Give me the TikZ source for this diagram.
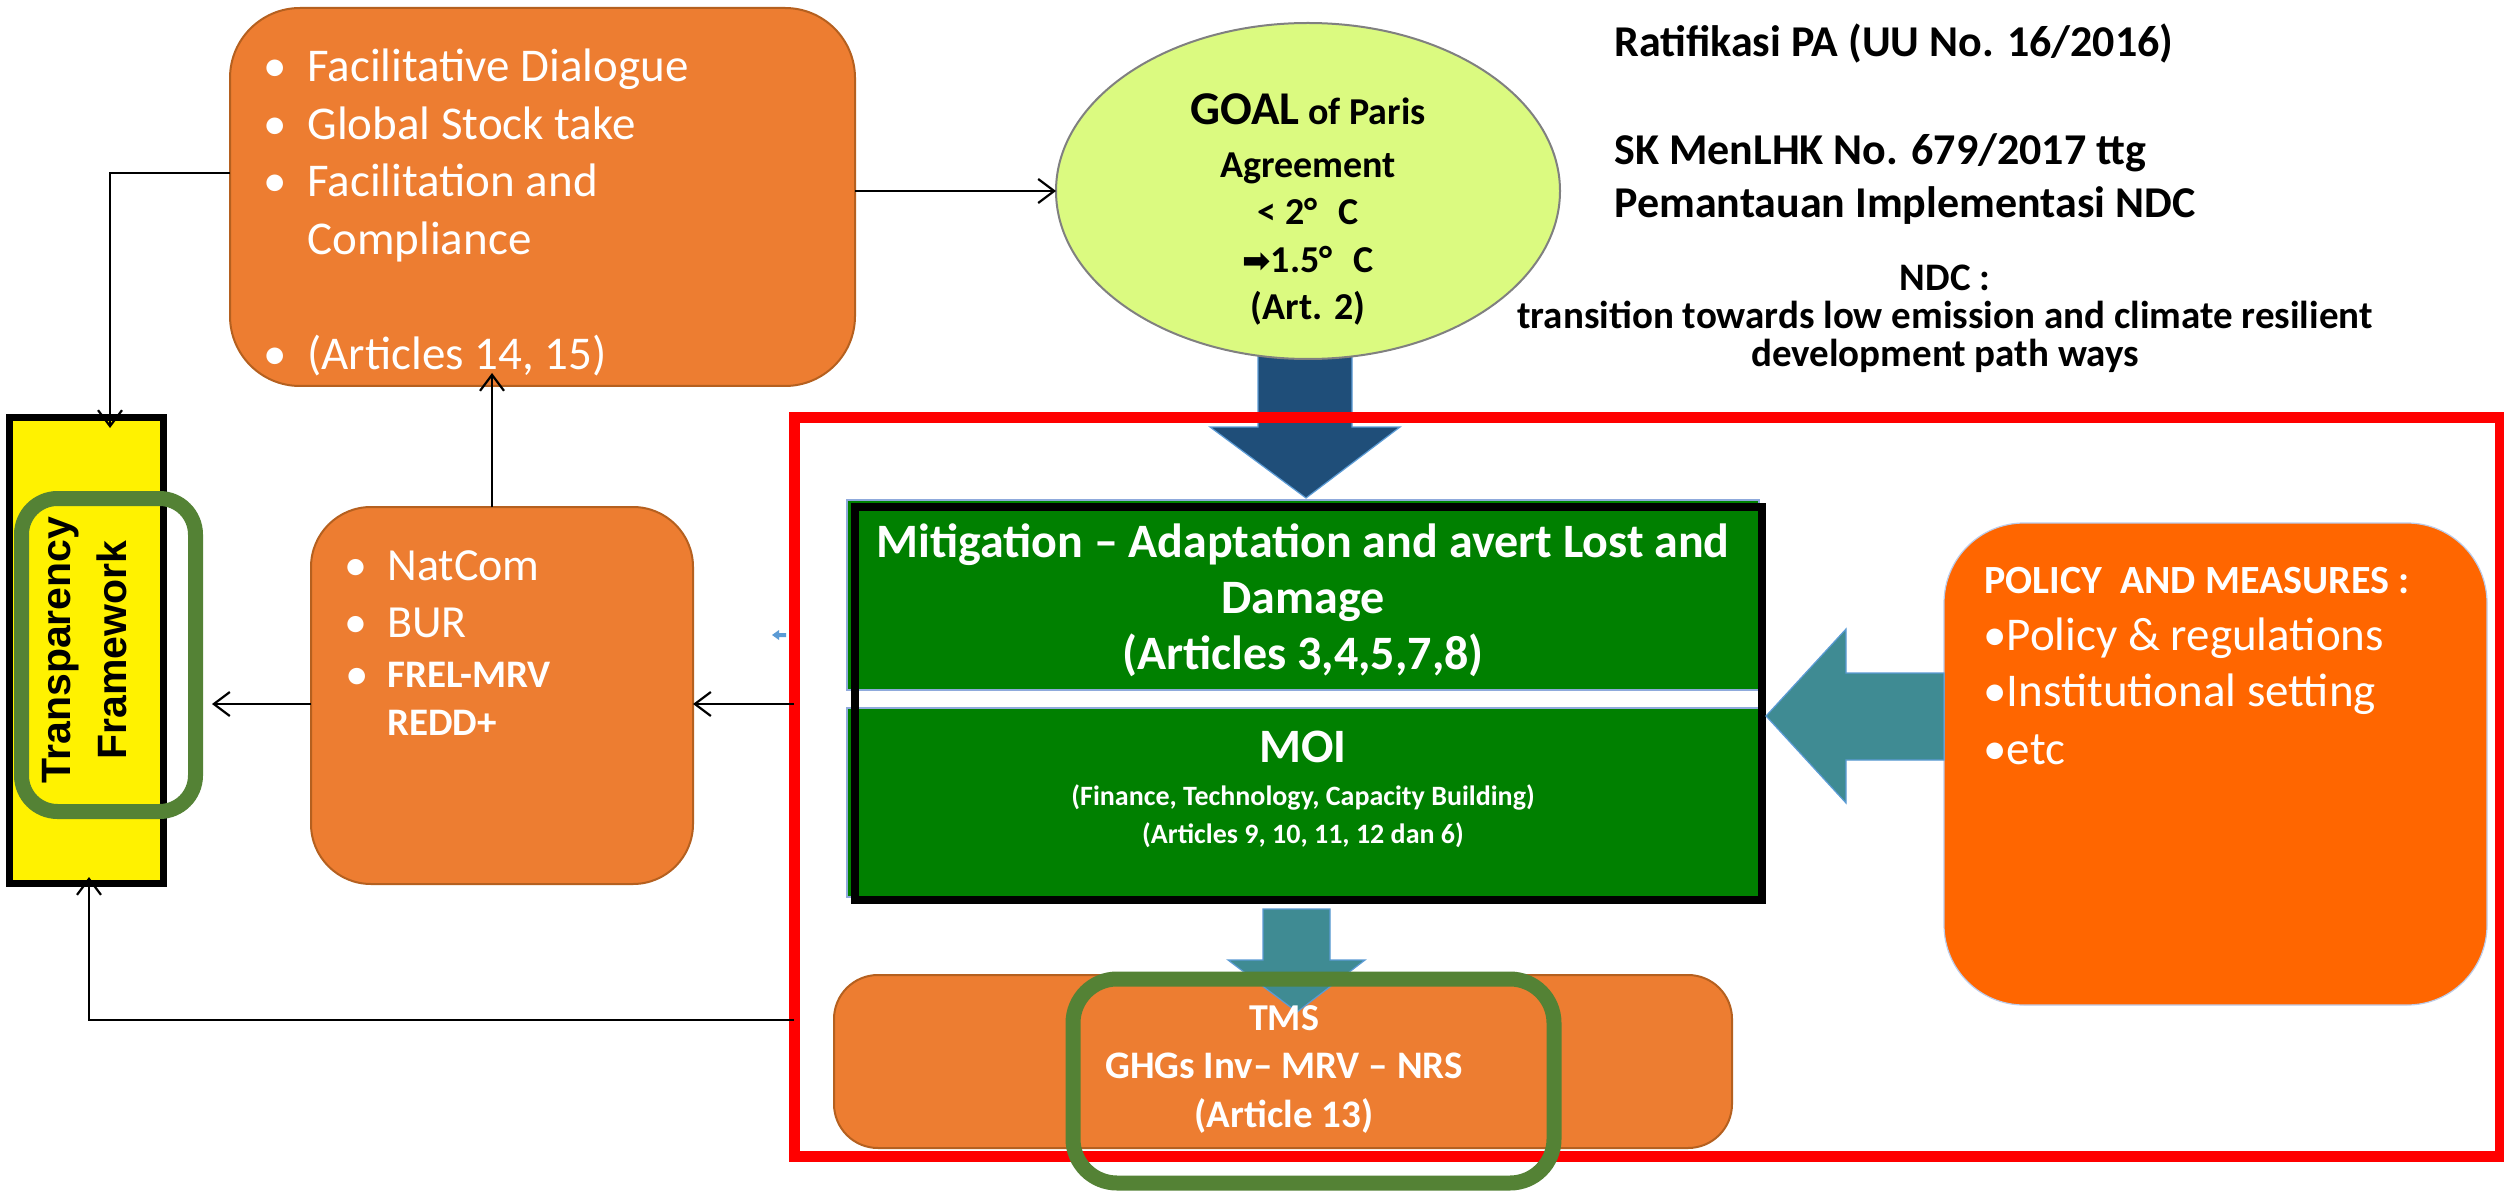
\documentclass[tikz,border=0pt]{standalone}
\usepackage{fontspec}
\setmainfont{Carlito}
\newfontfamily\arb{Liberation Sans}
\newfontfamily\djv{DejaVu Sans}
\usetikzlibrary{arrows.meta,shapes.geometric,calc}
\newcommand\fsz[1]{\fontsize{#1}{#1}\selectfont}
\newcommand\bll{\llap{•\hspace{10pt}}}
\definecolor{orng}{HTML}{ED7D31}
\definecolor{oedge}{HTML}{B5601F}
\definecolor{polor}{HTML}{FF6600}
\definecolor{limey}{HTML}{DBFA80}
\definecolor{dblue}{HTML}{1F4E79}
\definecolor{teal2}{HTML}{3F8B93}
\definecolor{gdark}{HTML}{008000}
\definecolor{olive2}{HTML}{548235}
\definecolor{lblue}{HTML}{5B9BD5}
\definecolor{gedge}{HTML}{8FAADC}
\tikzset{
  obox/.style={rectangle, draw=oedge, fill=orng, line width=1pt, inner sep=0pt, outer sep=0pt},
  hlbox/.style={rectangle, draw=olive2, line width=7.5pt, inner sep=0pt, outer sep=0pt},
  gbox/.style={rectangle, draw=gedge, fill=gdark, line width=0.6pt, inner sep=0pt, outer sep=0pt, minimum width=456pt},
  wt/.style={inner sep=0pt, anchor=base west, text=white},
  wc/.style={inner sep=0pt, anchor=base, text=white, font=\bfseries},
  bt/.style={inner sep=0pt, anchor=base, text=black},
  bw/.style={inner sep=0pt, anchor=base west, text=black},
  conn/.style={draw=black, line width=1.1pt, -{Straight Barb[length=8pt,width=12pt,line width=1.1pt]}},
  blockarr/.style={draw=lblue, line width=0.6pt}
}
\begin{document}
\begin{tikzpicture}[x=0.5pt,y=-0.5pt]
\useasboundingbox (0,0) rectangle (2504,1192);
\fill[white] (0,0) rectangle (2504,1192);

% dark blue block arrow (goal -> mitigation)
\fill[dblue, blockarr] (1258,356) -- (1352,356) -- (1352,427) -- (1400,427) -- (1306,498) -- (1210,427) -- (1258,427) -- cycle;

% red frame
\node[rectangle, draw=red, line width=5.5pt, inner sep=0pt, outer sep=0pt, minimum width=853pt, minimum height=369.5pt] (redbox) at (1647,786.5) {};

% top orange box
\node[obox, minimum width=312.5pt, minimum height=189pt, rounded corners=35pt] (fac) at (542.5,197) {};
\node[wt, font=\fsz{23.5}] (f1) at (307,82) {\bll Facilitative Dialogue};
\node[wt, font=\fsz{23.5}] (f2) at (307,140) {\bll Global Stock take};
\node[wt, font=\fsz{23.5}] (f3) at (307,197) {\bll Facilitation and};
\node[wt, font=\fsz{23.5}] (f4) at (307,255) {Compliance};
\node[wt, font=\fsz{23.5}] (f5) at (307,370) {\bll (Articles 14, 15)};

% goal ellipse
\node[ellipse, draw=gray, fill=limey, line width=1pt, minimum width=252pt, minimum height=168pt, inner sep=0pt, outer sep=0pt] (goal) at (1308,191) {};
\node[bt, font=\bfseries] (g1) at (1308,125) {\fsz{23.5}GOAL\fsz{19} of Paris};
\node[bt, font=\bfseries\fsz{19}] (g2) at (1308,178) {Agreement};
\node[bt, font=\bfseries\fsz{19}] (g3) at (1308,225) {< 2°\hspace{0.55em}C};
\node[bt, font=\bfseries\fsz{19}] (g4) at (1308,273) {{\djv\fsz{17}➡}1.5°\hspace{0.55em}C};
\node[bt, font=\bfseries\fsz{19}] (g5) at (1308,320) {(Art. 2)};

% right texts
\node[bw, font=\bfseries\fsz{22}] (r1) at (1614,57) {Ratifikasi PA (UU No. 16/2016)};
\node[bw, font=\bfseries\fsz{22}] (r2) at (1614,165) {SK MenLHK No. 679/2017 ttg};
\node[bw, font=\bfseries\fsz{22}] (r3) at (1614,218) {Pemantauan Implementasi NDC};
\node[bt, font=\bfseries\fsz{19.5}] (n1) at (1945,291) {NDC :};
\node[bt, font=\bfseries\fsz{19.5}] (n2) at (1945,329) {transition towards low emission and climate resilient};
\node[bt, font=\bfseries\fsz{19.5}] (n3) at (1945,367) {development path ways};

% green boxes
\node[gbox, minimum height=95pt] (mit) at (1303,595) {};
\node[gbox, minimum height=94.5pt] (moi) at (1303,802.5) {};
\node[rectangle, draw=black, line width=4pt, inner sep=0pt, outer sep=0pt, minimum width=453.5pt, minimum height=196.5pt] (blk) at (1308.5,703.5) {};
\node[wc, font=\bfseries\fsz{24}] (m1) at (1303,557) {Mitigation – Adaptation and avert Lost and};
\node[wc, font=\bfseries\fsz{24}] (m2) at (1303,613) {Damage};
\node[wc, font=\bfseries\fsz{24}] (m3) at (1303,669) {(Articles 3,4,5,7,8)};
\node[wc, font=\bfseries\fsz{24}] (o1) at (1303,762) {MOI};
\node[wc, font=\bfseries\fsz{14}] (o2) at (1303,805) {(Finance, Technology, Capacity Building)};
\node[wc, font=\bfseries\fsz{14}] (o3) at (1303,843) {(Articles 9, 10, 11, 12 dan 6)};

% policy box
\node[rectangle, draw=gedge!60, fill=polor, line width=0.6pt, inner sep=0pt, outer sep=0pt, rounded corners=40pt, minimum width=271.5pt, minimum height=241pt] (pol) at (2215.5,764) {};
\node[wt, font=\bfseries\fsz{20}] (p0) at (1984,593) {POLICY\ \ AND MEASURES :};
\node[wt, font=\fsz{23.5}] (p1) at (1983,650) {•Policy \& regulations};
\node[wt, font=\fsz{23.5}] (p2) at (1983,706) {•Institutional setting};
\node[wt, font=\fsz{23.5}] (p3) at (1983,764) {•etc};

% teal arrow policy -> green
\fill[teal2, blockarr] (pol.west |- 0,673) -- (1846,673) -- (1846,629) -- (1766,716) -- (1846,803) -- (1846,760) -- (pol.west |- 0,760) -- cycle;

% TMS box
\node[obox, minimum width=449pt, minimum height=86.5pt, rounded corners=22pt] (tms) at (1283,1061.5) {};
\fill[teal2, blockarr] (1263,909) -- (1330,909) -- (1330,960) -- (1365,960) -- (1297,1012) -- (1228,960) -- (1263,960) -- cycle;
\node[wc, font=\bfseries\fsz{19}] (t1) at (1284,1030) {TMS};
\node[wc, font=\bfseries\fsz{19.5}] (t2) at (1284,1078) {GHGs Inv– MRV – NRS};
\node[wc, font=\bfseries\fsz{19.5}] (t3) at (1284,1127) {(Article 13)};
\node[hlbox, rounded corners=22pt, minimum width=240.5pt, minimum height=102pt] (hl2) at (1313.5,1081) {};

% NatCom box
\node[obox, minimum width=191pt, minimum height=188.5pt, rounded corners=30pt] (natcom) at (502,695.5) {};
\node[wt, font=\fsz{23}] (c1) at (387,580) {\bll NatCom};
\node[wt, font=\fsz{23}] (c2) at (387,637) {\bll BUR};
\node[wt, font=\bfseries\fsz{19.5}] (c3) at (387,687) {\bll FREL-MRV};
\node[wt, font=\bfseries\fsz{19.5}] (c4) at (387,735) {REDD+};

% transparency box
\node[rectangle, draw=black, fill=yellow, line width=3.5pt, inner sep=0pt, outer sep=0pt, minimum width=77pt, minimum height=233pt] (tyel) at (86,650) {};
\node[rotate=90, align=center, inner sep=0pt, text=black, font=\arb\bfseries\fontsize{20.5}{28}\selectfont] (ttxt) at (85,650) {Transparency\\Framework};
\node[hlbox, rounded corners=18pt, minimum width=87pt, minimum height=156.5pt] (hl1) at (108.5,655) {};

% small stray blue arrow
\fill[lblue] (786,633) -- (779,633) -- (779,630) -- (772,635) -- (779,640) -- (779,637) -- (786,637) -- cycle;

% connectors
\draw[conn] (fac.east |- goal.west) -- (goal.west);
\draw[conn] ([yshift=12pt]fac.west) -| ([xshift=12pt]tyel.north) [shorten >=-5.5pt];
\draw[conn, shorten >=-6.5pt] ([xshift=-5pt]natcom.north) -- ([xshift=-5pt]natcom.north |- fac.south);
\coordinate (nl) at ([yshift=-4.25pt]natcom.west);
\draw[conn, shorten >=8.25pt] (nl) -- (nl -| hl1.east);
\draw[conn] (nl -| redbox.west) -- (nl -| natcom.east);
\coordinate (bl) at ([yshift=-116.75pt]redbox.west);
\draw[conn, shorten >=-3pt] (bl) -| ([xshift=1.5pt]tyel.south);
\end{tikzpicture}
\end{document}
